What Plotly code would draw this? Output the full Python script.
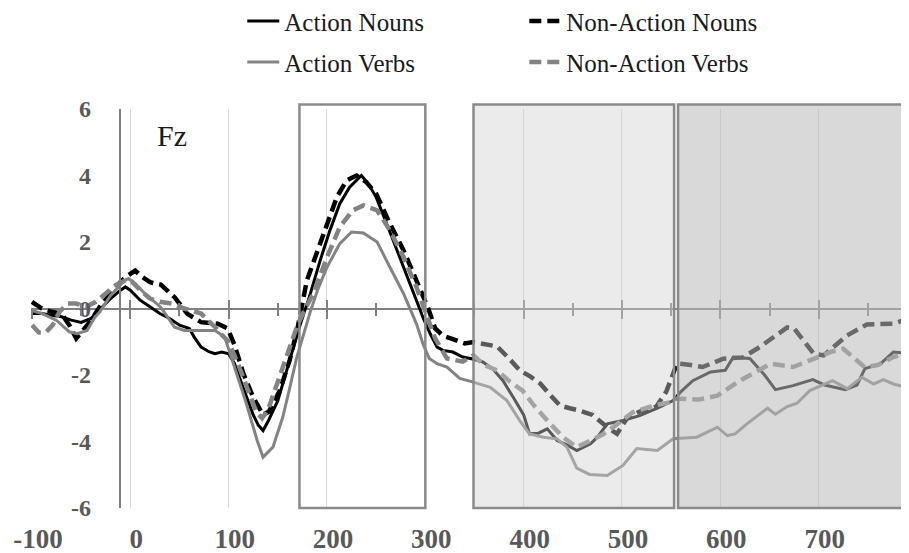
import plotly.graph_objects as go

# ---------------- data ----------------
an_t = [-100, -90, -80, -70, -60, -50, -40, -30, -20, -10, -5, 0, 10, 20, 30, 40, 50, 60, 65, 72,
        80, 86, 93, 100, 106, 115, 125, 130, 135, 140, 150, 162, 172, 183, 193, 203, 213, 223, 235, 242,
        250, 264, 278, 291, 298, 305, 312, 318, 328, 338, 347, 358, 368, 379, 390, 400, 406, 415, 424, 434,
        444, 454, 468, 475, 485, 501, 518, 536, 552, 560, 572, 590, 605, 613, 630, 645, 656, 674, 694, 706,
        727, 739, 747, 763, 776, 792]
an_v = [-0.15, -0.15, -0.2, -0.25, -0.35, -0.42, -0.3, 0.0, 0.3, 0.55, 0.65, 0.55, 0.25, 0.05, -0.15, -0.3, -0.5, -0.6, -0.86, -1.16,
        -1.3, -1.36, -1.31, -1.36, -1.66, -2.4, -3.2, -3.5, -3.67, -3.4, -2.77, -1.56, -0.56, 0.44, 1.44, 2.35, 3.15, 3.65, 4.0, 3.75,
        3.35, 2.3, 1.2, 0.24, -0.3, -0.76, -1.16, -1.26, -1.31, -1.46, -1.51, -1.6, -1.8, -2.17, -2.7, -3.2, -3.77, -3.75, -3.62, -3.97,
        -4.1, -4.27, -4.07, -3.87, -3.47, -3.37, -3.22, -3.0, -2.77, -2.5, -2.17, -1.91, -1.86, -1.47, -1.5, -2.0, -2.44, -2.32, -2.14, -2.3,
        -2.44, -2.3, -1.81, -1.66, -1.31, -1.36]

nan_t = [-100, -90, -80, -70, -62, -55, -48, -40, -30, -20, -10, -2, 5, 12, 20, 31, 45, 58, 72, 89,
         99, 106, 115, 125, 135, 141, 152, 162, 170, 179.5, 190, 200, 210, 220, 230, 240, 250, 264, 278, 291,
         303, 310, 318, 328, 340, 349, 363, 373, 385, 396, 407, 417, 427, 437, 447, 457, 470, 485, 495, 505,
         518, 535, 545, 552, 556, 570, 582, 603, 623, 640, 655, 668, 675, 685, 695, 705, 717, 729, 749, 776, 792]
nan_v = [0.2, 0.0, -0.1, -0.15, -0.5, -0.9, -0.65, -0.36, 0.1, 0.44, 0.8, 1.0, 1.14, 0.95, 0.79, 0.72, 0.34, -0.16, -0.41, -0.46,
         -0.6, -1.1, -1.96, -2.67, -3.2, -3.1, -2.47, -1.56, -0.6, 0.84, 1.74, 2.55, 3.35, 3.85, 4.0, 3.8, 3.45, 2.55, 1.74, 0.84,
         0.0, -0.6, -0.82, -0.92, -1.05, -1.01, -1.08, -1.14, -1.5, -1.86, -2.05, -2.26, -2.6, -2.92, -3.0, -3.07, -3.2, -3.57, -3.77, -3.3,
         -3.1, -2.95, -2.5, -1.9, -1.65, -1.7, -1.76, -1.51, -1.47, -1.16, -0.85, -0.57, -0.6, -1.0, -1.36, -1.41, -1.1, -0.81, -0.48, -0.46, -0.3]

av_t = [-100, -90, -75, -62, -54, -44, -36, -31, -20, -6, -2, 5, 15, 31, 45, 55, 70, 86, 96, 105,
        118, 129, 135, 145, 155, 162, 169, 176, 183, 191, 200, 213, 225, 237, 251, 264, 278, 291, 298, 304,
        312, 322, 335, 347, 366, 383, 396, 406, 420, 434, 444, 454, 467, 485, 501, 515, 536, 552, 576, 597,
        607, 615, 627, 648, 656, 668, 678, 691, 714, 729, 744, 756, 766, 776, 792]
av_v = [-0.06, -0.15, -0.36, -0.7, -0.76, -0.66, -0.26, -0.1, 0.39, 0.84, 0.9, 0.75, 0.44, 0.04, -0.56, -0.66, -0.66, -0.66, -0.86, -1.66,
        -2.86, -3.97, -4.47, -4.17, -3.27, -2.4, -1.5, -0.8, -0.1, 0.6, 1.24, 1.95, 2.3, 2.27, 2.0, 1.24, 0.44, -0.46, -1.1, -1.5,
        -1.66, -1.76, -2.1, -2.2, -2.37, -2.77, -3.37, -3.77, -3.87, -3.92, -4.17, -4.8, -4.99, -5.02, -4.72, -4.21, -4.27, -3.92, -3.87, -3.57,
        -3.82, -3.77, -3.47, -3.0, -3.18, -2.95, -2.85, -2.47, -2.17, -2.41, -2.07, -2.27, -2.14, -2.27, -2.39]

nav_t = [-100, -93, -86, -79, -72, -64, -55, -45, -35, -25, -15, -5, 2, 10, 20, 30, 42, 55, 65, 72,
         79, 86, 92, 100, 110, 120, 128, 134, 140, 150, 160, 170, 178, 186, 200, 213, 226, 237, 251, 264,
         278, 291, 300, 310, 322, 338, 349, 360, 373, 386, 399, 410, 424, 440, 454, 467, 480, 491, 511, 532,
         549, 554, 578, 597, 620, 651, 674, 691, 713, 725, 735, 747, 760, 776, 792]
nav_v = [-0.5, -0.72, -0.72, -0.5, -0.1, 0.15, 0.15, 0.05, 0.2, 0.45, 0.7, 0.85, 0.8, 0.55, 0.3, 0.2, 0.15, 0.0, -0.1, -0.15,
         -0.36, -0.55, -0.76, -1.0, -1.7, -2.5, -3.1, -3.3, -3.05, -2.2, -1.3, -0.5, 0.0, 0.44, 1.54, 2.45, 2.95, 3.1, 2.95, 2.35,
         1.54, 0.64, -0.1, -0.9, -1.5, -1.6, -1.41, -1.7, -1.86, -2.2, -2.47, -2.9, -3.37, -3.87, -4.17, -3.97, -3.8, -3.57, -3.12, -2.92,
         -2.82, -2.71, -2.74, -2.62, -2.17, -1.66, -1.76, -1.56, -1.3, -1.21, -1.46, -1.77, -1.7, -1.46, -1.31]

series_names = ["Action Nouns", "Non-Action Nouns", "Action Verbs", "Non-Action Verbs"]

x_tick_vals = [-100, 0, 100, 200, 300, 400, 500, 600, 700]
x_tick_text = ["-100", "0", "100", "200", "300", "400", "500", "600", "700"]
y_tick_vals = [-6, -4, -2, 0, 2, 4, 6]
y_tick_text = ["-6", "-4", "-2", "0", "2", "4", "6"]

# analysis windows (ms)
window_white = (172, 300)
window_light = (349, 553)
window_dark = (557, 810)

electrode_label = "Fz"

# ---------------- figure ----------------
X_RANGE = [-101, 800]
Y_RANGE = [-6, 6]
Y_AXIS_AT = -10          # the vertical axis crosses here
LABEL_SHIFT = 6.1        # category labels sit slightly right of their gridlines
yaxis_pos = (Y_AXIS_AT - X_RANGE[0]) / (X_RANGE[1] - X_RANGE[0])
zero_pos = (0 - Y_RANGE[0]) / (Y_RANGE[1] - Y_RANGE[0])

BLACK = "#000000"
GRAY = "#838383"
AXG = "#808080"
DASH = "12px,6px"

fig = go.Figure()
fig.add_trace(go.Scatter(x=an_t, y=an_v, name=series_names[0], mode="lines",
                         line=dict(color=BLACK, width=3), legend="legend"))
fig.add_trace(go.Scatter(x=nan_t, y=nan_v, name=series_names[1], mode="lines",
                         line=dict(color=BLACK, width=4.5, dash=DASH), legend="legend"))
fig.add_trace(go.Scatter(x=av_t, y=av_v, name=series_names[2], mode="lines",
                         line=dict(color=GRAY, width=3), legend="legend2"))
fig.add_trace(go.Scatter(x=nav_t, y=nav_v, name=series_names[3], mode="lines",
                         line=dict(color=GRAY, width=4.5, dash=DASH), legend="legend2"))
# carriers for the helper axes (zero-line ticks, bottom labels)
for ax in ("x2", "x3", "x4"):
    fig.add_trace(go.Scatter(x=[None], y=[None], xaxis=ax, showlegend=False, hoverinfo="skip"))

shape_line = dict(color="#8a8a8a", width=2.5)
fig.add_shape(type="rect", xref="x", yref="paper", x0=window_white[0], x1=window_white[1],
              y0=0, y1=1.0113, line=shape_line, fillcolor="rgba(0,0,0,0)", layer="above")
fig.add_shape(type="rect", xref="x", yref="paper", x0=window_light[0], x1=window_light[1],
              y0=0, y1=1.0113, line=shape_line, fillcolor="rgba(209,209,209,0.43)", layer="above")
fig.add_shape(type="rect", xref="x", yref="paper", x0=window_dark[0], x1=window_dark[1],
              y0=0, y1=1.0113, line=shape_line, fillcolor="rgba(187,187,187,0.56)", layer="above")

fig.add_annotation(x=25, y=5.2, xref="x", yref="y", text=electrode_label, showarrow=False,
                   xanchor="left", yanchor="middle",
                   font=dict(family="Liberation Serif", size=30, color="#1a1a1a"))

tick_font_x = dict(family="Liberation Serif", size=27, color="#595959", weight="bold")
tick_font_y = dict(family="Liberation Serif", size=24, color="#595959", weight="bold")
legend_font = dict(family="Liberation Serif", size=25, color="#1a1a1a")

zero_axis_common = dict(overlaying="x", anchor="free", position=zero_pos, side="bottom",
                        range=X_RANGE, showgrid=False, showticklabels=False, zeroline=False,
                        showline=False, tickcolor=AXG, tickwidth=1.5, tick0=0, dtick=100)

fig.update_layout(
    width=909, height=553,
    margin=dict(l=23, r=0, t=101, b=53, autoexpand=False),
    paper_bgcolor="white", plot_bgcolor="white",
    xaxis=dict(range=X_RANGE, tickmode="array", tickvals=x_tick_vals,
               showgrid=True, gridcolor="#d9d9d9", gridwidth=1, zeroline=False, showline=False,
               ticks="", showticklabels=False),
    xaxis2=dict(**zero_axis_common, ticks="outside", ticklen=9,
                minor=dict(ticks="outside", ticklen=6, dtick=50, tick0=0, tickcolor=AXG, showgrid=False)),
    xaxis3=dict(**zero_axis_common, ticks="inside", ticklen=9,
                minor=dict(ticks="inside", ticklen=6, dtick=50, tick0=0, tickcolor=AXG, showgrid=False)),
    xaxis4=dict(overlaying="x", anchor="y", side="bottom",
                range=[X_RANGE[0] - LABEL_SHIFT, X_RANGE[1] - LABEL_SHIFT],
                tickmode="array", tickvals=x_tick_vals, ticktext=x_tick_text,
                showgrid=False, zeroline=False, showline=False, ticks="",
                tickfont=tick_font_x, ticklabelstandoff=12),
    yaxis=dict(range=Y_RANGE, tickmode="array", tickvals=y_tick_vals, ticktext=y_tick_text,
               anchor="free", position=yaxis_pos, showgrid=False,
               zeroline=True, zerolinecolor=AXG, zerolinewidth=1.5,
               showline=True, linecolor=AXG, linewidth=1.5, ticks="",
               tickfont=tick_font_y, ticklabelstandoff=24),
    legend=dict(orientation="h", x=0.2385, y=1.22, xanchor="left", yanchor="middle",
                font=legend_font, entrywidth=235, entrywidthmode="pixels", itemwidth=32,
                bgcolor="rgba(0,0,0,0)"),
    legend2=dict(orientation="h", x=0.2385, y=1.1174, xanchor="left", yanchor="middle",
                 font=legend_font, entrywidth=235, entrywidthmode="pixels", itemwidth=32,
                 bgcolor="rgba(0,0,0,0)"),
    showlegend=True,
)

fig.write_html("out.html")
